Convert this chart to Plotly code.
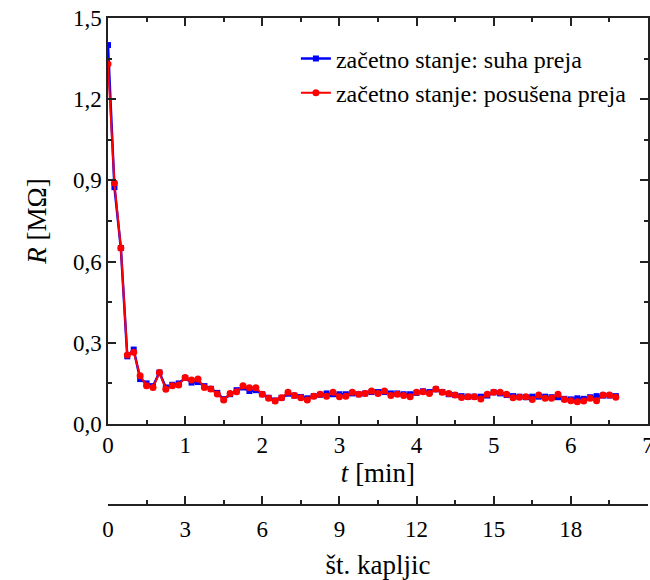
import plotly.graph_objects as go

# Measurement every 5 s (time in minutes)
n_points = 80
t_min = [i * 5 / 60 for i in range(n_points)]

# Resistance [MΩ], initial state: dry yarn
r_suha = [
    1.40, 0.875, 0.65, 0.25, 0.275, 0.166, 0.150, 0.140, 0.190, 0.135,
    0.145, 0.150, 0.170, 0.153, 0.155, 0.140, 0.130, 0.115, 0.092, 0.110,
    0.125, 0.135, 0.122, 0.125, 0.110, 0.097, 0.087, 0.097, 0.112, 0.105,
    0.100, 0.095, 0.103, 0.108, 0.113, 0.110, 0.110, 0.110, 0.113, 0.110,
    0.113, 0.118, 0.118, 0.118, 0.113, 0.113, 0.110, 0.110, 0.115, 0.121,
    0.118, 0.128, 0.118, 0.110, 0.107, 0.103, 0.101, 0.101, 0.101, 0.105,
    0.117, 0.113, 0.107, 0.103, 0.101, 0.099, 0.101, 0.101, 0.101, 0.099,
    0.099, 0.093, 0.091, 0.095, 0.093, 0.099, 0.103, 0.105, 0.105, 0.103,
]

# Resistance [MΩ], initial state: dried yarn
r_posusena = [
    1.33, 0.89, 0.65, 0.255, 0.265, 0.178, 0.141, 0.135, 0.190, 0.128,
    0.141, 0.144, 0.172, 0.163, 0.166, 0.135, 0.129, 0.111, 0.089, 0.113,
    0.119, 0.141, 0.134, 0.134, 0.110, 0.095, 0.085, 0.097, 0.117, 0.105,
    0.097, 0.089, 0.103, 0.110, 0.103, 0.117, 0.101, 0.103, 0.117, 0.110,
    0.113, 0.122, 0.113, 0.122, 0.105, 0.110, 0.105, 0.101, 0.117, 0.119,
    0.113, 0.129, 0.117, 0.113, 0.107, 0.098, 0.101, 0.101, 0.092, 0.110,
    0.117, 0.117, 0.110, 0.097, 0.099, 0.101, 0.091, 0.107, 0.095, 0.095,
    0.110, 0.091, 0.086, 0.082, 0.085, 0.095, 0.086, 0.107, 0.107, 0.099,
]

name_suha = "začetno stanje: suha preja"
name_posusena = "začetno stanje: posušena preja"

FONT = "'Liberation Serif', 'Times New Roman', 'DejaVu Serif', serif"
INK = "#222222"

fig = go.Figure()
fig.add_trace(go.Scatter(
    x=t_min, y=r_suha, name=name_suha, mode="lines+markers",
    line=dict(color="#0000ff", width=2.5),
    marker=dict(symbol="square", size=6, color="#0000ff"),
))
fig.add_trace(go.Scatter(
    x=t_min, y=r_posusena, name=name_posusena, mode="lines+markers",
    line=dict(color="#ff0000", width=2),
    marker=dict(symbol="circle", size=7, color="#ff0000"),
))
# Carrier trace for the drop-count axis
fig.add_trace(go.Scatter(x=[0, 21], y=[None, None], xaxis="x2", yaxis="y",
                         showlegend=False, hoverinfo="skip", mode="lines"))

tick_font = dict(family=FONT, size=23, color="black")
title_font = dict(family=FONT, size=27, color="black")

frame = dict(showline=True, linecolor=INK, linewidth=1.5, mirror="ticks",
             ticks="inside", tickcolor=INK, tickwidth=1.5, ticklen=8,
             showgrid=False, zeroline=False, tickfont=tick_font,
             automargin=False)
minor_style = dict(ticks="inside", ticklen=4, tickcolor=INK, tickwidth=1.5)

fig.update_layout(
    width=650, height=580,
    margin=dict(l=108, r=2, t=18, b=75, autoexpand=False),
    paper_bgcolor="white", plot_bgcolor="white",
    separators=",.",
    font=dict(family=FONT, size=23, color="black"),
    showlegend=True,
    legend=dict(x=0.348, y=0.962, xanchor="left", yanchor="top",
                bgcolor="rgba(0,0,0,0)", borderwidth=0,
                font=dict(family=FONT, size=24, color="black"),
                tracegroupgap=0),
    xaxis=dict(range=[0, 7], dtick=1, tick0=0, ticklabeloverflow="allow",
               minor=dict(dtick=0.5, **minor_style),
               title=dict(text="<i>t</i> [min]", standoff=0, font=title_font),
               **frame),
    yaxis=dict(range=[0, 1.5], dtick=0.3, tick0=0, tickformat=".1f",
               domain=[0.1663, 1],
               minor=dict(dtick=0.15, **minor_style),
               title=dict(text="<i>R</i> [MΩ]", standoff=18, font=title_font),
               **frame),
    xaxis2=dict(range=[0, 21], overlaying="x",
                anchor="free", position=0, side="bottom",
                showline=True, linecolor=INK, linewidth=1.5,
                ticks="inside", tickcolor=INK, tickwidth=1.5, ticklen=8,
                minor=dict(dtick=1.5, **minor_style),
                showgrid=False, zeroline=False, automargin=False,
                tickvals=[0, 3, 6, 9, 12, 15, 18],
                tickfont=tick_font, ticklabelstandoff=4,
                title=dict(text="št. kapljic", standoff=14, font=title_font)),
)

fig.write_html("out.html")
